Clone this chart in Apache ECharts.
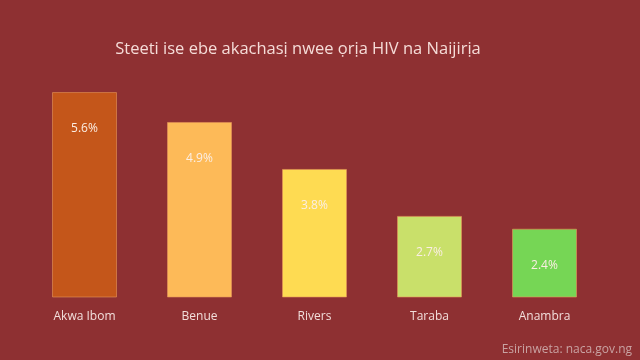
<!DOCTYPE html>
<html><head><meta charset="utf-8">
<script src="https://cdn.jsdelivr.net/npm/echarts@6/dist/echarts.min.js"></script>
<style>html,body{margin:0;padding:0;background:#8e3032;}#c{width:640px;height:360px;}</style>
</head><body><div id="c"></div>
<script>
const categories = ["Akwa Ibom", "Benue", "Rivers", "Taraba", "Anambra"];
const values = [5.6, 4.9, 3.8, 2.7, 2.4];
const barColors = ["#c4561a", "#fdba58", "#fedb52", "#c9e06a", "#76d655"];
const titleText = "Steeti ise ebe akachasị nwee ọrịa HIV na Naijirịa";
const sourceText = "Esirinweta: naca.gov.ng";

const chart = echarts.init(document.getElementById('c'));
chart.setOption({
  backgroundColor: '#8e3032',
  title: [{
    text: titleText, left: 293, top: 36, textAlign: 'center',
    textStyle: {color: '#f5dcd8', fontSize: 16.5, fontWeight: 'normal', fontFamily: 'Open Sans'}
  }, {
    text: sourceText, right: 3, top: 339,
    textStyle: {color: '#c9a3a3', fontSize: 12, fontWeight: 'normal', fontFamily: 'Open Sans'}
  }],
  grid: {left: 27, right: 38, top: 75, bottom: 63},
  xAxis: {
    type: 'category', data: categories,
    axisLine: {show: false}, axisTick: {show: false},
    axisLabel: {color: '#f2dedb', fontSize: 12, fontFamily: 'Open Sans', margin: 14}
  },
  yAxis: {type: 'value', min: 0.8, max: 6, show: false, splitLine: {show: false}},
  series: [{
    type: 'bar', barWidth: 65,
    data: values.map((v, i) => ({value: v, itemStyle: {color: barColors[i]}})),
    itemStyle: {borderColor: 'rgba(230,150,90,0.6)', borderWidth: 1},
    label: {
      show: true, position: 'insideTop', distance: 31,
      formatter: p => p.value + '%',
      color: '#fbeee4', fontSize: 12, fontFamily: 'Open Sans'
    }
  }]
});
</script></body></html>
